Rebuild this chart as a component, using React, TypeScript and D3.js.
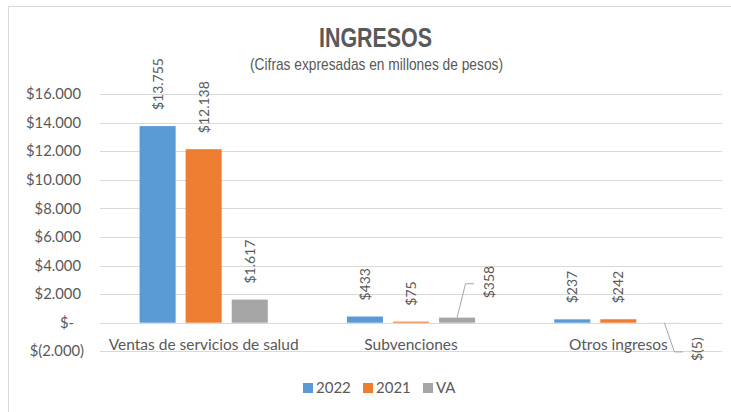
import React from "react";
import * as d3 from "d3";

const WIDTH = 731;
const HEIGHT = 412;

const categories = ["Ventas de servicios de salud", "Subvenciones", "Otros ingresos"];
const seriesNames = ["2022", "2021", "VA"];
const values2022 = [13755, 433, 237];
const values2021 = [12138, 75, 242];
const valuesVA = [1617, 358, -5];
const yTicks = [-2000, 0, 2000, 4000, 6000, 8000, 10000, 12000, 14000, 16000];

const colors = ["#5B9BD5", "#ED7D31", "#A5A5A5"];
const TEXT = "#595959";
const GRID = "#D9D9D9";
const FONT = "Lato, 'Open Sans', sans-serif";

// labels excel dragged off their bars (series index, category index)
const movedLabels: {s: number; c: number; dx: number; dy: number}[] = [
    {s: 2, c: 1, dx: 31.5, dy: -3.3},
    {s: 2, c: 2, dx: 33, dy: -1.5},
];

const PLOT_L = 100;
const PLOT_R = 722;
const Y_TOP = 94;
const Y_BOTTOM = 351.3;
const LABEL_GAP = 16;

const fmtNum = (v: number) => Math.abs(v).toString().replace(/\B(?=(\d{3})+(?!\d))/g, ".");
const money = (v: number) => v === 0 ? "$-" : v < 0 ? "$(" + fmtNum(v) + ")" : "$" + fmtNum(v);

export default function App() {
    const series = [values2022, values2021, valuesVA];

    const y = d3.scaleLinear().domain([-2000, 16000]).range([Y_BOTTOM, Y_TOP]);
    const pad = 79 / 207;
    const x0 = d3.scaleBand<string>()
        .domain(categories)
        .range([PLOT_L, PLOT_R])
        .paddingInner(pad)
        .paddingOuter(pad / 2);
    const x1 = d3.scaleBand<string>()
        .domain(seriesNames)
        .range([0, x0.bandwidth()])
        .paddingInner(10 / 46);

    const bars: React.ReactNode[] = [];
    const labels: React.ReactNode[] = [];

    series.forEach((vals, s) => {
        vals.forEach((v, c) => {
            const bx = (x0(categories[c]) ?? 0) + (x1(seriesNames[s]) ?? 0);
            const bw = x1.bandwidth();
            const top = y(Math.max(v, 0));
            const bottom = y(Math.min(v, 0));
            bars.push(
                <rect key={"b" + s + c} x={bx} y={top} width={bw} height={bottom - top}
                      fill={colors[s]}/>
            );
            const cx = bx + bw / 2;
            const moved = movedLabels.find((m) => m.s === s && m.c === c);
            const dx = moved ? moved.dx : 0;
            const dy = moved ? moved.dy : 0;
            const text = money(v);
            // rotated text: positive reads upward from above the bar,
            // negative ends just below the bar
            const ay = (v >= 0 ? top - LABEL_GAP : bottom + LABEL_GAP) + dy;
            const lx = cx + dx;
            labels.push(
                <text key={"l" + s + c} transform={`translate(${lx},${ay}) rotate(-90)`}
                      textAnchor={v >= 0 ? "start" : "end"} dy="0.36em"
                      fontFamily={FONT} fontSize={14} fill={TEXT}>{text}</text>
            );
            if (moved) {
                const len = text.length * 0.58 * 14 * 0.9;
                const midY = v >= 0 ? ay - len / 2 : ay + len / 2;
                const left = lx - 7;
                const startY = v >= 0 ? top : bottom;
                labels.push(
                    <polyline key={"ll" + s + c}
                              points={`${cx},${startY} ${left - 16},${midY} ${left - 7.5},${midY}`}
                              fill="none" stroke="#A6A6A6" strokeWidth={1}/>
                );
            }
        });
    });

    const tickX = (v: number) => v === 0 ? 74 : v < 0 ? 84 : 81;

    const legendItems = [
        {name: "2022", x: 303},
        {name: "2021", x: 363},
        {name: "VA", x: 423},
    ];

    return (
        <svg width={WIDTH} height={HEIGHT}
             style={{position: "absolute", left: 0, top: 0, background: "#fff"}}>
            <rect x={8.5} y={6.5} width={760} height={440} fill="#fff" stroke={GRID} strokeWidth={1}/>

            <text x={375.5} y={47} textAnchor="middle" fontFamily="'Liberation Sans', Arial, sans-serif"
                  fontWeight="bold" fontSize={27} fill={TEXT} textLength={113}
                  lengthAdjust="spacingAndGlyphs">INGRESOS</text>
            <text x={376.5} y={70} textAnchor="middle" fontFamily="'Liberation Sans', Arial, sans-serif"
                  fontSize={17} fill={TEXT} textLength={253}
                  lengthAdjust="spacingAndGlyphs">(Cifras expresadas en millones de pesos)</text>

            <g>
                {yTicks.map((t) => (
                    <g key={t}>
                        <line x1={PLOT_L} x2={PLOT_R} y1={Math.round(y(t)) + 0.5} y2={Math.round(y(t)) + 0.5}
                              stroke={GRID} strokeWidth={1}/>
                        <text x={tickX(t)} y={y(t)} dy="0.35em" textAnchor="end" fontFamily={FONT}
                              fontSize={14.8} fill={TEXT}>{money(t)}</text>
                    </g>
                ))}
            </g>

            <g>{bars}</g>
            <g>{labels}</g>

            <g>
                {categories.map((c) => (
                    <text key={c} x={(x0(c) ?? 0) + x0.bandwidth() / 2} y={350} textAnchor="middle"
                          fontFamily={FONT} fontSize={15.5} fill={TEXT}>{c}</text>
                ))}
            </g>

            <g>
                {legendItems.map((d, i) => (
                    <g key={d.name}>
                        <rect x={d.x} y={383} width={10} height={10} fill={colors[i]}/>
                        <text x={d.x + 13} y={393} fontFamily={FONT} fontSize={15} fill={TEXT}>{d.name}</text>
                    </g>
                ))}
            </g>
        </svg>
    );
}
